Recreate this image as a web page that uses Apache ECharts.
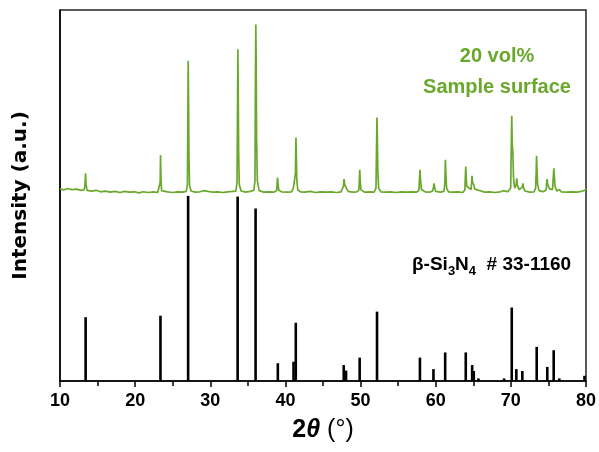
<!DOCTYPE html>
<html>
<head>
<meta charset="utf-8">
<script src="https://cdn.jsdelivr.net/npm/echarts@6/dist/echarts.min.js"></script>
<style>html,body{margin:0;padding:0;background:#fff}#c{width:599px;height:452px}</style>
</head>
<body>
<div id="c"></div>
<script>
// 2theta tick labels
var xTicks = [10, 20, 30, 40, 50, 60, 70, 80];

// Measured pattern (sample surface, 20 vol%) - 2theta (deg)
var sampleX = [
10.0,10.5,11.0,11.6,12.2,12.8,13.2,13.32,13.40,13.46,13.6,14.2,14.8,15.4,16.0,16.7,17.3,18.0,18.6,19.2,19.9,20.5,21.1,21.8,22.4,23.0,
23.25,23.33,23.38,23.44,23.52,23.7,24.3,25.0,25.6,26.3,26.8,26.96,27.01,27.06,27.11,27.16,27.25,27.45,28.0,28.6,29.2,29.45,29.7,30.3,
31.0,31.7,32.3,32.9,33.4,33.56,33.62,33.67,33.72,33.77,33.86,34.1,34.7,35.3,35.8,35.95,36.00,36.06,36.11,36.16,36.26,36.5,37.1,37.8,
38.5,38.85,38.92,38.96,39.02,39.12,39.5,40.2,40.8,41.02,41.12,41.25,41.33,41.40,41.46,41.52,41.65,42.0,42.6,43.3,44.0,44.7,45.4,46.1,
46.8,47.4,47.6,47.72,47.80,47.88,48.06,48.15,48.35,48.9,49.5,49.78,49.85,49.89,49.95,50.05,50.5,51.2,51.8,52.05,52.12,52.18,52.23,52.29,
52.40,52.7,53.3,54.0,54.7,55.4,56.1,56.8,57.4,57.75,57.86,57.91,57.97,58.1,58.6,59.2,59.6,59.73,59.78,59.86,60.0,60.6,61.1,61.22,61.29,
61.35,61.45,61.7,62.3,63.0,63.6,63.88,63.95,64.00,64.06,64.13,64.22,64.7,64.78,64.83,64.9,65.08,65.2,65.6,65.7,65.85,66.5,67.2,67.9,
68.6,69.0,69.1,69.2,69.6,69.98,70.05,70.12,70.18,70.27,70.35,70.5,70.72,70.78,70.86,71.1,71.52,71.60,71.7,71.9,72.5,73.1,73.3,73.38,
73.42,73.48,73.56,73.75,74.3,74.7,74.78,74.83,74.9,75.02,75.15,75.55,75.65,75.72,75.78,75.88,76.1,76.45,76.7,77.4,78.1,78.8,79.4,79.9,80.0
];
// Measured pattern - intensity (a.u.)
var sampleY = [
51.8,51.5,51.9,51.6,51.7,51.4,51.5,52.6,56.0,53.0,51.4,51.2,51.4,51.0,51.2,50.9,51.1,50.8,51.1,50.9,51.0,50.7,51.0,50.8,51.0,50.8,
51.0,53.5,60.9,54.0,51.3,50.9,51.0,50.8,51.0,50.9,51.1,53.0,70.0,86.3,75.0,60.0,52.5,51.2,50.9,51.0,51.3,51.7,51.1,50.9,
51.0,50.8,51.0,51.1,51.2,53.5,72.0,89.4,78.0,62.0,53.0,51.2,50.9,51.1,51.4,54.0,78.0,96.1,85.0,66.0,54.0,51.3,50.9,51.0,
50.9,51.4,54.0,54.8,53.0,51.4,51.0,50.9,51.0,51.8,52.8,52.5,56.0,65.6,60.0,54.0,51.5,51.0,50.9,51.1,50.8,51.0,50.9,51.0,
50.8,51.0,51.0,52.5,54.4,53.0,52.8,51.8,51.1,50.9,51.0,51.5,55.0,56.9,54.0,51.6,50.9,51.0,50.9,52.0,62.0,71.0,66.0,57.0,
52.0,51.0,50.9,51.0,50.8,51.0,50.9,51.0,50.9,51.3,55.0,56.9,54.5,51.6,51.0,50.9,51.2,52.6,53.3,52.2,51.1,50.9,51.1,53.5,59.6,
56.0,52.0,51.0,50.9,51.0,50.8,51.5,55.5,57.8,55.0,52.5,52.0,51.6,53.5,55.3,53.5,52.8,51.7,51.5,51.9,51.1,50.9,51.0,50.8,
51.0,51.3,51.8,51.2,51.0,52.0,62.0,71.5,64.0,61.4,55.0,52.0,53.0,54.6,52.8,51.6,52.2,53.3,52.0,51.2,50.9,51.0,52.0,57.0,
60.7,57.0,53.0,51.3,51.0,51.5,53.8,54.4,53.0,52.6,51.8,51.6,55.0,57.3,55.5,52.5,51.2,51.6,51.0,50.9,51.0,50.9,51.1,51.5,51.8
];

// Reference pattern beta-Si3N4 PDF #33-1160
var refPos = [13.41,23.37,27.05,33.64,36.03,38.99,41.08,41.38,47.76,48.07,49.88,52.19,57.90,59.70,61.26,64.00,64.85,65.07,65.68,69.10,70.12,70.73,71.53,73.44,74.85,75.70,76.45,79.80];
var refInt = [17.2,17.6,49.9,49.7,46.5,4.8,5.2,15.7,4.3,2.8,6.3,18.7,6.3,3.2,7.7,7.7,4.3,2.7,0.7,0.7,19.8,3.2,2.7,9.2,3.8,8.3,0.7,1.4];

var green = '#6aa82c';
var lineData = sampleX.map(function (x, i) { return [x, sampleY[i]]; });
var stickData = refPos.map(function (x, i) { return [x, refInt[i]]; });

var chart = echarts.init(document.getElementById('c'), null, {renderer: 'canvas'});
chart.setOption({
  animation: false,
  backgroundColor: '#fff',
  grid: {left: 60, top: 10, right: 12, bottom: 71, show: true, borderColor: '#222', borderWidth: 1.5, backgroundColor: 'transparent'},
  xAxis: {
    type: 'value', min: xTicks[0], max: xTicks[xTicks.length - 1], interval: 10,
    axisLine: {show: true, onZero: false, lineStyle: {color: '#000', width: 1.5}},
    axisTick: {show: true, inside: false, length: 6, lineStyle: {color: '#000', width: 1.5}},
    minorTick: {show: true, splitNumber: 2, length: 5, lineStyle: {color: '#000', width: 1.5}},
    splitLine: {show: false},
    axisLabel: {color: '#000', fontFamily: 'Liberation Sans, Arial', fontWeight: 'bold', fontSize: 18, margin: 11},
    name: '{b|2}{t|θ}{r| (°)}',
    nameLocation: 'middle', nameGap: 37,
    nameTextStyle: {
      rich: {
        b: {fontFamily: 'Liberation Sans, Arial', fontWeight: 'bold', fontSize: 25, color: '#000'},
        t: {fontFamily: 'Liberation Sans, Arial', fontWeight: 'bold', fontStyle: 'italic', fontSize: 25, color: '#000'},
        r: {fontFamily: 'Liberation Sans, Arial', fontWeight: 'normal', fontSize: 25, color: '#000'}
      }
    }
  },
  yAxis: {
    type: 'value', min: 0, max: 100,
    axisLine: {show: true, lineStyle: {color: '#000', width: 1.5}},
    axisTick: {show: false}, axisLabel: {show: false}, splitLine: {show: false},
    name: 'Intensity (a.u.)', nameLocation: 'middle', nameGap: 29, nameRotate: 90,
    nameTextStyle: {fontFamily: 'DejaVu Sans', fontWeight: 'bold', fontSize: 20, color: '#000'}
  },
  series: [
    {type: 'bar', data: stickData, barWidth: 2.6, itemStyle: {color: '#000'}, z: 2, silent: true},
    {type: 'line', data: lineData, showSymbol: false, sampling: false, lineStyle: {color: green, width: 1.7}, z: 3, silent: true}
  ],
  graphic: [
    {type: 'text', style: {text: '20 vol%', x: 497, y: 56, align: 'center', verticalAlign: 'middle', fill: green, font: 'bold 20px "Liberation Sans", Arial'}},
    {type: 'text', style: {text: 'Sample surface', x: 497, y: 87, align: 'center', verticalAlign: 'middle', fill: green, font: 'bold 20px "Liberation Sans", Arial'}},
    {type: 'text', style: {
      text: 'β-Si{s|3}N{s|4}  # 33-1160', x: 412, y: 265, align: 'left', verticalAlign: 'middle',
      fill: '#000', font: 'bold 19px "Liberation Sans", Arial',
      rich: {s: {fontSize: 13, fontWeight: 'bold', fontFamily: 'Liberation Sans, Arial', padding: [13, 0, 0, 0]}}
    }}
  ]
});
</script>
</body>
</html>
